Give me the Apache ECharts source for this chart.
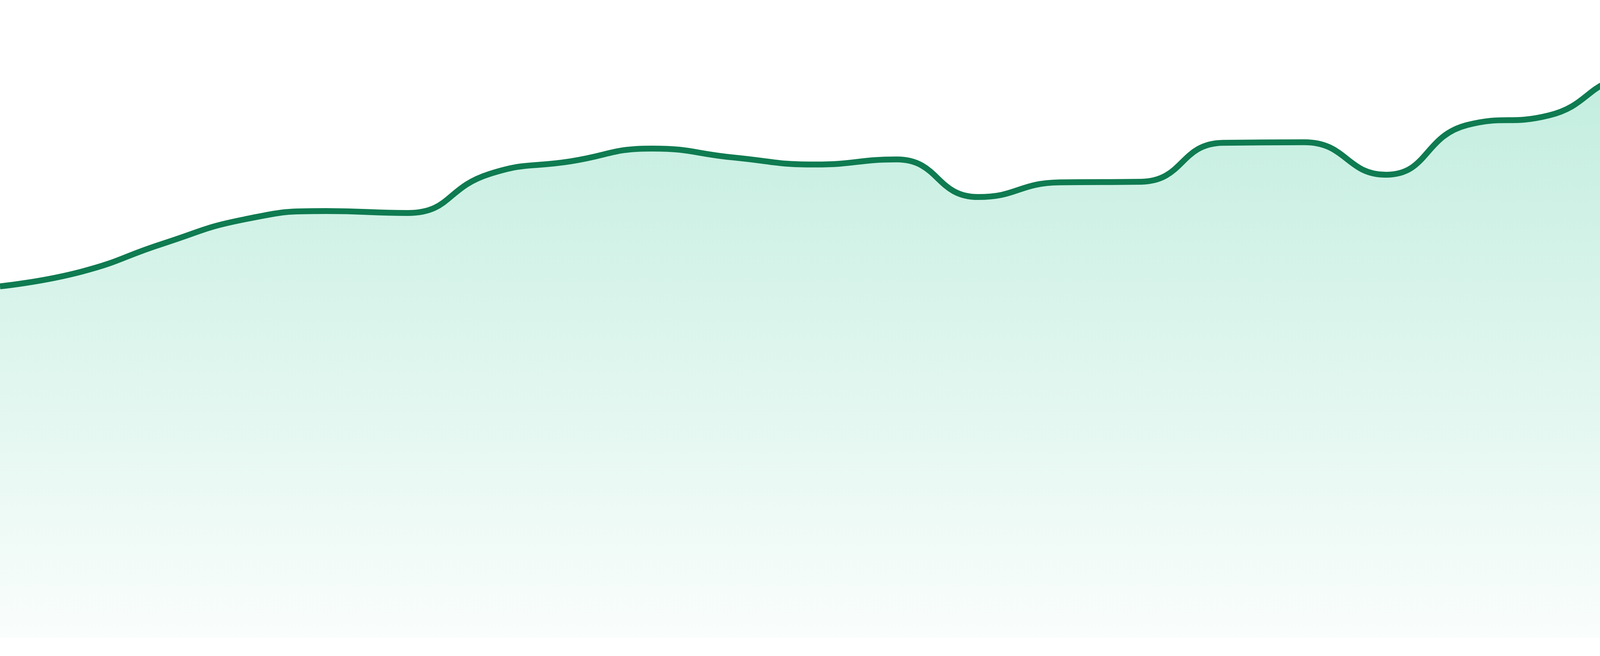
<!DOCTYPE html>
<html>
<head>
<meta charset="utf-8">
<style>
  html, body { margin: 0; padding: 0; background: #ffffff; }
  #chart { width: 4800px; height: 1680px; }
</style>
<script src="https://cdn.jsdelivr.net/npm/echarts@6/dist/echarts.min.js"></script>
</head>
<body>
<div id="chart"></div>
<script>
const categories = ['1','2','3','4','5','6','7','8','9','10','11','12','13','14','15','16','17','18','19','20','21','22','23','24'];
const values = [55.1, 57.4, 61.8, 65.6, 66.9, 66.6, 72.7, 74.7, 76.7, 75.3, 74.2, 75.0, 69.1, 71.4, 71.5, 77.6, 77.7, 72.6, 80.4, 81.9, 87.6, 86.0, 85.5, 78.3];

const chart = echarts.init(document.getElementById('chart'), null, { renderer: 'canvas' });
chart.setOption({
  animation: false,
  backgroundColor: '#ffffff',
  grid: { left: 0, right: 0, top: 0, bottom: 47, containLabel: false },
  xAxis: {
    type: 'category',
    data: categories,
    boundaryGap: false,
    show: false
  },
  yAxis: {
    type: 'value',
    min: 0,
    max: 100,
    show: false
  },
  series: [{
    type: 'line',
    data: values,
    smooth: true,
    symbol: 'none',
    lineStyle: { color: '#0f7b51', width: 15 },
    itemStyle: { color: '#0f7b51' },
    areaStyle: {
      color: new echarts.graphic.LinearGradient(0, 0, 0, 1, [
        { offset: 0, color: 'rgba(16,185,129,0.36)' },
        { offset: 1, color: 'rgba(16,185,129,0.03)' }
      ])
    }
  }]
});
</script>
</body>
</html>
